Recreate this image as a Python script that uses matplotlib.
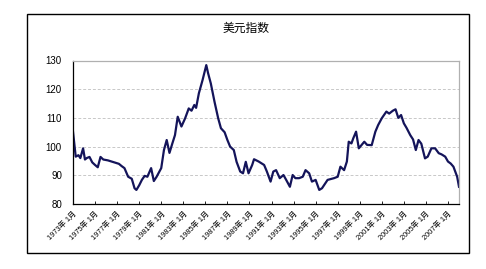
import matplotlib
matplotlib.use("Agg")
import matplotlib.pyplot as plt
from matplotlib.patches import Rectangle
import pandas as pd

title = "美元指数"

dates = ["1973-01", "1973-04", "1973-07", "1973-09", "1973-12", "1974-02", "1974-04",
         "1974-07", "1974-10", "1975-01", "1975-04", "1975-07", "1975-10", "1976-03",
         "1976-07", "1976-10", "1977-03", "1977-06", "1977-09", "1978-01", "1978-05",
         "1978-08", "1978-10", "1979-01", "1979-04", "1979-07", "1979-10", "1980-02",
         "1980-05", "1980-08", "1981-01", "1981-04", "1981-07", "1981-10", "1982-01",
         "1982-04", "1982-07", "1982-11", "1983-03", "1983-07", "1983-10", "1984-01",
         "1984-03", "1984-06", "1984-10", "1985-02", "1985-04", "1985-07", "1985-11",
         "1986-03", "1986-06", "1986-10", "1987-01",
         "1987-04", "1987-08", "1987-11", "1988-03", "1988-06", "1988-09", "1988-12",
         "1989-04", "1989-06", "1989-11", "1990-05", "1990-08", "1990-12", "1991-03",
         "1991-06", "1991-10", "1992-02", "1992-05", "1992-09", "1992-12", "1993-03",
         "1993-07", "1993-11", "1994-02", "1994-06", "1994-09", "1995-01", "1995-05",
         "1995-08", "1996-02", "1996-09", "1997-01", "1997-04", "1997-08", "1997-11",
         "1998-01", "1998-04", "1998-06", "1998-09", "1998-12", "1999-06", "1999-09",
         "2000-02", "2000-06", "2000-09", "2001-01",
         "2001-06", "2001-09", "2002-01", "2002-04", "2002-07", "2002-10", "2003-01",
         "2003-04", "2003-08", "2003-11", "2004-02", "2004-05", "2004-08", "2004-12",
         "2005-03", "2005-07", "2005-11", "2006-03", "2006-06", "2006-10", "2007-01",
         "2007-04", "2007-07", "2007-11", "2008-01"]

values = [105.2, 96.5, 97.0, 96.0, 99.4, 95.5, 96.0,
          96.4, 94.5, 93.6, 92.8, 96.4, 95.5, 95.2,
          94.8, 94.5, 94.0, 93.2, 92.5, 89.5, 88.8,
          85.5, 84.9, 86.5, 88.4, 89.8, 89.5, 92.5,
          88.0, 89.5, 92.5, 98.8, 102.3, 97.8, 101.0,
          104.0, 110.4, 107.0, 109.8, 113.3, 112.5, 114.5,
          113.5, 118.6, 123.2, 128.4, 125.6, 122.0, 115.6,
          109.9, 106.4, 105.0, 102.3,
          100.0, 98.8, 94.7, 91.3, 90.7, 94.7, 90.7,
          93.6, 95.6, 94.8, 93.6, 91.3, 87.8, 91.3,
          91.8, 89.0, 90.1, 88.4, 86.0, 90.1, 89.0,
          89.0, 89.5, 91.8, 90.7, 87.8, 88.4, 84.9,
          85.5, 88.4, 89.0, 89.5, 93.0, 91.8, 94.8,
          101.7, 101.1, 102.9, 105.2, 99.4, 101.7, 100.6,
          100.5, 105.2, 107.5, 109.9,
          112.2, 111.5, 112.5, 113.0, 110.0, 111.0, 108.1,
          106.5, 104.0, 102.5, 98.8, 102.3, 101.0, 95.9,
          96.5, 99.4, 99.4, 97.7, 97.3, 96.5, 94.8,
          94.1, 93.0, 89.5, 86.0]

tick_years = list(range(1973, 2008, 2))
tick_labels = [f"{y}年 1月" for y in tick_years]
y_ticks = [80, 90, 100, 110, 120, 130]

W, H = 486, 269
fig = plt.figure(figsize=(W / 100, H / 100), dpi=100)
fig.patch.set_facecolor("white")

# chart-area frame
fig.patches.append(Rectangle((27 / W, 1 - 253 / H), (469 - 27) / W, (253 - 14) / H,
                             transform=fig.transFigure, fill=False,
                             edgecolor="black", linewidth=1.0))

ax = fig.add_axes([73 / W, 1 - 204 / H, (459 - 73) / W, (204 - 60.5) / H])

x = pd.to_datetime(dates)
ax.plot(x, values, color="#14145a", linewidth=1.6)

ax.set_xlim(pd.Timestamp("1973-01-01"), pd.Timestamp("2008-01-01"))
ax.set_ylim(80, 130)
ax.set_yticks(y_ticks)
ax.set_yticklabels([str(v) for v in y_ticks], fontsize=7, family=["Liberation Sans"])

ticks = [pd.Timestamp(f"{y}-01-01") for y in tick_years]
ax.set_xticks(ticks)
ax.set_xticklabels(tick_labels, rotation=45, ha="right", rotation_mode="anchor",
                   fontsize=5.3, family=["Liberation Sans", "Noto Sans CJK SC"])

for v in [90, 100, 110, 120]:
    ax.axhline(v, color="#c8c8c8", linewidth=0.7, linestyle=(0, (3, 2)), zorder=0)

ax.spines["left"].set_color("black")
ax.spines["bottom"].set_color("black")
ax.spines["top"].set_color("#b0b0b0")
ax.spines["right"].set_color("#b0b0b0")
for s in ax.spines.values():
    s.set_linewidth(0.9)

ax.tick_params(axis="x", direction="in", length=2.5, width=0.6, pad=4)
ax.tick_params(axis="y", direction="out", length=0, width=0.6, pad=8)

fig.text(246 / W, 1 - 28 / H, title, ha="center", va="center", fontsize=8.5,
         family=["Noto Sans CJK SC"])

fig.savefig("out.png", dpi=100)
